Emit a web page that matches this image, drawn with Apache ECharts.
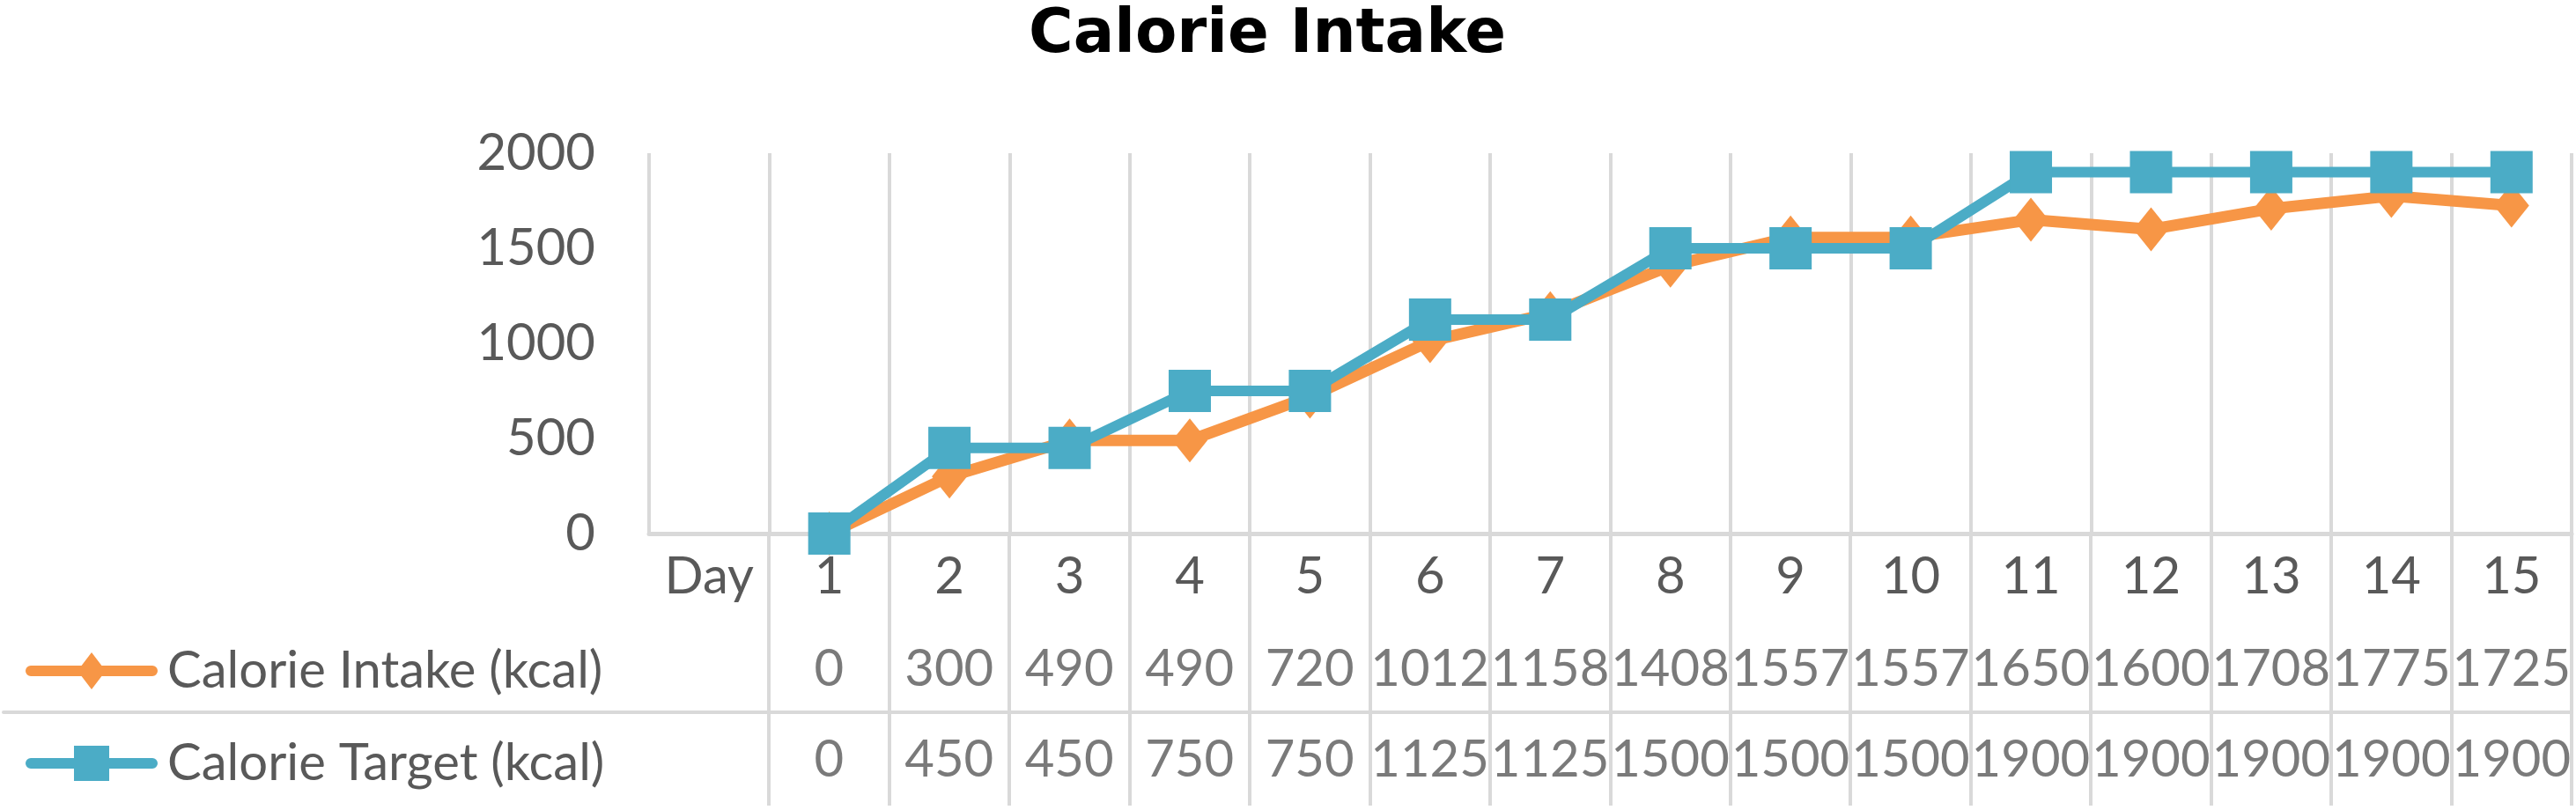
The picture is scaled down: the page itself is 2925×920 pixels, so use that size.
<!DOCTYPE html>
<html>
<head>
<meta charset="utf-8">
<script src="https://cdn.jsdelivr.net/npm/echarts@6/dist/echarts.min.js"></script>
<style>
html,body{margin:0;padding:0;background:#fff;}
#chart{width:2925px;height:920px;}
</style>
</head>
<body>
<div id="chart"></div>
<script>
// ---- data ----
const titleText = 'Calorie Intake';
const headerLabel = 'Day';
const days = ['1','2','3','4','5','6','7','8','9','10','11','12','13','14','15'];
const intakeName = 'Calorie Intake (kcal)';
const targetName = 'Calorie Target (kcal)';
const intake = [0,300,490,490,720,1012,1158,1408,1557,1557,1650,1600,1708,1775,1725];
const target = [0,450,450,750,750,1125,1125,1500,1500,1500,1900,1900,1900,1900,1900];
const yTicks = [0,500,1000,1500,2000];

// ---- styling ----
const FONT = 'Lato';
const TXT = '#595959';
const GRIDC = '#D9D9D9';
const ORANGE = '#F79646';
const BLUE = '#4BACC6';

const cats = [headerLabel].concat(days);
const withGap = arr => ['-'].concat(arr);
const rowKeys = ['day', 'intake', 'target'];

const tableData = [];
intake.forEach((v, i) => tableData.push([i, 1, v]));
target.forEach((v, i) => tableData.push([i, 2, v]));

const barPath = 'M6,15 L144,15 A6,6 0 0 1 144,27 L6,27 A6,6 0 0 1 6,15 Z ';
const iconIntake = 'path://' + barPath + 'M75,0 L91,21 L75,42 L59,21 Z';
const iconTarget = 'path://' + barPath + 'M55,1 L95,1 L95,41 L55,41 Z';

const chart = echarts.init(document.getElementById('chart'));
chart.setOption({
  animation: false,
  backgroundColor: '#fff',
  title: {
    text: titleText,
    left: 1434, top: -2, textAlign: 'center',
    textStyle: { fontFamily: 'DejaVu Sans', fontWeight: 'bold', fontSize: 69, color: '#000', lineHeight: 76 }
  },
  legend: {
    orient: 'vertical', left: 24, top: 727,
    itemWidth: 150, itemHeight: 42, itemGap: 45,
    selectedMode: false,
    textStyle: { fontFamily: FONT, fontSize: 58, color: TXT, lineHeight: 60, padding: [0,0,0,6] },
    data: [
      { name: intakeName, icon: iconIntake },
      { name: targetName, icon: iconTarget }
    ]
  },
  grid: [
    { left: 737, right: 5, top: 174, bottom: 314 },
    { left: 873, right: 5, top: 606, bottom: 5 },
    { left: 4, right: 5, top: 809, height: 1 }
  ],
  xAxis: [
    {
      gridIndex: 0, type: 'category', data: cats, boundaryGap: true,
      axisLine: { show: true, lineStyle: { color: GRIDC, width: 5 } },
      axisTick: { show: false },
      axisLabel: { interval: 0, margin: 19, fontFamily: FONT, fontSize: 58, color: TXT, lineHeight: 60 },
      splitLine: { show: true, interval: 0, lineStyle: { color: GRIDC, width: 4 } }
    },
    {
      gridIndex: 1, type: 'category', data: days, boundaryGap: true,
      axisLine: { show: false }, axisTick: { show: false }, axisLabel: { show: false },
      splitLine: { show: true, interval: 0, lineStyle: { color: GRIDC, width: 4 } }
    },
    {
      gridIndex: 2, type: 'value', position: 'top',
      axisLine: { show: true, onZero: false, lineStyle: { color: GRIDC, width: 4 } },
      axisTick: { show: false }, axisLabel: { show: false }, splitLine: { show: false }
    }
  ],
  yAxis: [
    {
      gridIndex: 0, type: 'value', min: 0, max: 2000, interval: 500,
      axisLine: { show: false }, axisTick: { show: false },
      axisLabel: { margin: 61, fontFamily: FONT, fontSize: 58, color: TXT,
        customValues: yTicks, formatter: v => String(v) },
      splitLine: { show: false }
    },
    {
      gridIndex: 1, type: 'category', data: rowKeys, inverse: true, boundaryGap: true,
      show: false
    },
    { gridIndex: 2, type: 'value', show: false }
  ],
  series: [
    {
      name: intakeName, type: 'line', xAxisIndex: 0, yAxisIndex: 0,
      data: withGap(intake),
      symbol: 'diamond', symbolSize: [40, 50],
      lineStyle: { color: ORANGE, width: 13 },
      itemStyle: { color: ORANGE },
      z: 3
    },
    {
      name: targetName, type: 'line', xAxisIndex: 0, yAxisIndex: 0,
      data: withGap(target),
      symbol: 'rect', symbolSize: 48,
      lineStyle: { color: BLUE, width: 12 },
      itemStyle: { color: BLUE },
      z: 4
    },
    {
      name: 'table', type: 'scatter', xAxisIndex: 1, yAxisIndex: 1,
      data: tableData, symbolSize: 1,
      itemStyle: { color: 'rgba(0,0,0,0)' },
      label: {
        show: true, position: 'inside',
        formatter: p => String(p.value[2]),
        fontFamily: FONT, fontSize: 58, color: TXT
      },
      silent: true
    }
  ]
});
</script>
</body>
</html>
